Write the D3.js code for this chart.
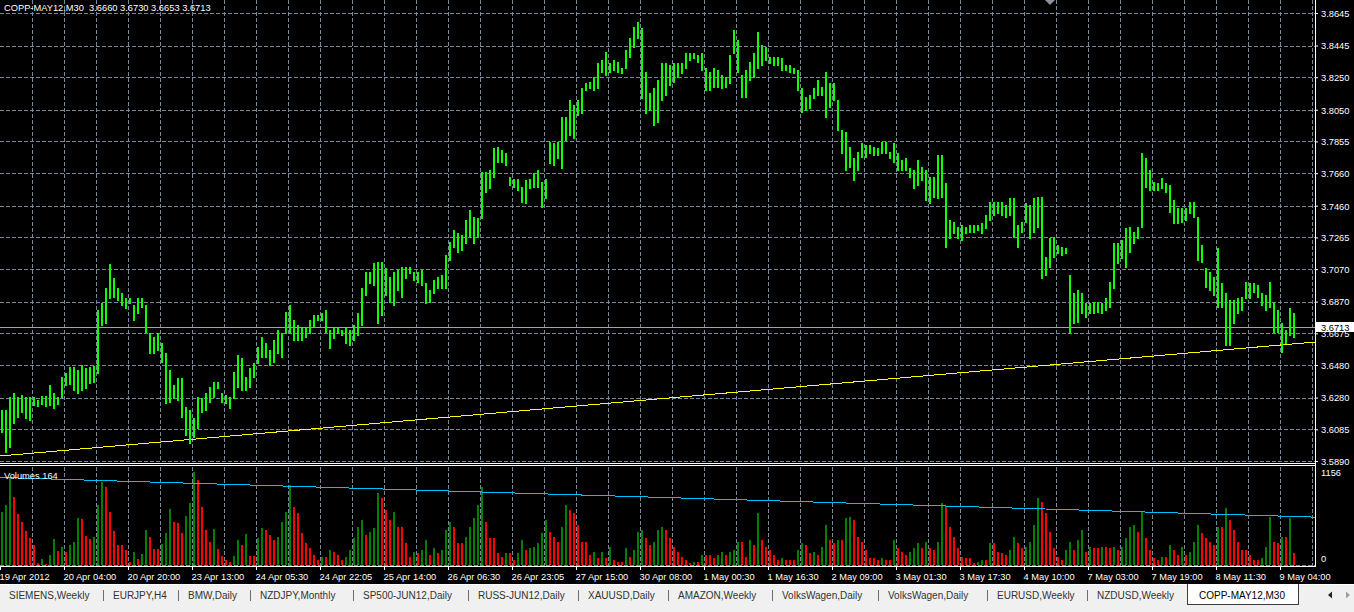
<!DOCTYPE html>
<html><head><meta charset="utf-8">
<script src="https://cdn.jsdelivr.net/npm/d3@7"></script>
<style>
html,body{margin:0;padding:0;background:#000;overflow:hidden}
svg{display:block}
</style></head><body>
<svg id="c" width="1354" height="612"></svg>
<script>
// ---------------- DATA ----------------
const symbolTitle = "COPP-MAY12,M30";
const lastOHLC = ["3.6660", "3.6730", "3.6653", "3.6713"];
const lastPrice = 3.6713;
const volumeTitle = "Volumes 164";
const priceTicks = ["3.8645","3.8445","3.8250","3.8050","3.7855","3.7660","3.7460","3.7265","3.7070","3.6870","3.6675","3.6480","3.6280","3.6085","3.5890"];
const volumeTicks = [0, 1156];
const timeLabels = ["19 Apr 2012","20 Apr 04:00","20 Apr 20:00","23 Apr 13:00","24 Apr 05:30","24 Apr 22:05","25 Apr 14:00","26 Apr 06:30","26 Apr 23:05","27 Apr 15:00","30 Apr 08:00","1 May 00:30","1 May 16:30","2 May 09:00","3 May 01:30","3 May 17:30","4 May 10:00","7 May 03:00","7 May 19:00","8 May 11:30","9 May 04:00"];
// each reading spans two consecutive M30 bars (one hour)
const highs = [
3.6203,3.6203,3.6283,3.6308,3.6283,3.6296,3.6283,3.6283,3.6283,3.6265,
3.6290,3.6290,3.6357,3.6308,3.6283,3.6406,3.6431,3.6468,3.6468,3.6450,
3.6480,3.6462,3.6468,3.6474,3.6818,3.6862,3.6954,3.7101,3.7015,3.6954,
3.6923,3.6892,3.6892,3.6849,3.6892,3.6892,3.6849,3.6677,3.6652,3.6677,
3.6616,3.6554,3.6450,3.6357,3.6400,3.6400,3.6222,3.6203,3.6154,3.6283,
3.6277,3.6308,3.6345,3.6376,3.6376,3.6308,3.6296,3.6283,3.6437,3.6542,
3.6523,3.6406,3.6462,3.6493,3.6591,3.6652,3.6616,3.6573,3.6634,3.6696,
3.6677,3.6806,3.6849,3.6757,3.6726,3.6708,3.6714,3.6757,3.6788,3.6788,
3.6800,3.6819,3.6696,3.6708,3.6708,3.6696,3.6708,3.6696,3.6726,3.6800,
3.6954,3.7052,3.7052,3.7107,3.7114,3.7114,3.7077,3.7022,3.7052,3.7065,
3.7083,3.7083,3.7083,3.7052,3.7052,3.7065,3.6985,3.6942,3.7003,3.7022,
3.7034,3.7157,3.7237,3.7311,3.7292,3.7280,3.7372,3.7434,3.7390,3.7384,
3.7667,3.7667,3.7680,3.7815,3.7821,3.7803,3.7784,3.7634,3.7622,3.7622,
3.7573,3.7616,3.7622,3.7661,3.7680,3.7606,3.7622,3.7852,3.7846,3.7852,
3.8005,3.8005,3.8110,3.8080,3.8110,3.8184,3.8215,3.8221,3.8251,3.8338,
3.8356,3.8405,3.8338,3.8356,3.8344,3.8307,3.8418,3.8491,3.8559,3.8590,
3.8553,3.8282,3.8153,3.8184,3.8233,3.8338,3.8338,3.8325,3.8338,3.8338,
3.8338,3.8399,3.8399,3.8399,3.8387,3.8399,3.8307,3.8282,3.8307,3.8295,
3.8264,3.8251,3.8387,3.8541,3.8479,3.8264,3.8295,3.8344,3.8399,3.8528,
3.8448,3.8436,3.8374,3.8374,3.8374,3.8368,3.8325,3.8325,3.8307,3.8295,
3.8184,3.8128,3.8141,3.8184,3.8233,3.8190,3.8282,3.8215,3.8215,3.8110,
3.7926,3.7913,3.7821,3.7753,3.7790,3.7846,3.7833,3.7833,3.7821,3.7815,
3.7852,3.7852,3.7790,3.7846,3.7784,3.7741,3.7753,3.7692,3.7680,3.7741,
3.7698,3.7680,3.7637,3.7637,3.7772,3.7772,3.7600,3.7372,3.7360,3.7329,
3.7341,3.7329,3.7341,3.7341,3.7341,3.7354,3.7403,3.7483,3.7483,3.7483,
3.7483,3.7464,3.7507,3.7507,3.7341,3.7360,3.7477,3.7464,3.7507,3.7514,
3.7514,3.7144,3.7261,3.7267,3.7218,3.7206,3.7200,3.7034,3.6923,3.6942,
3.6923,3.6862,3.6862,3.6868,3.6868,3.6862,3.6892,3.6991,3.7231,3.7231,
3.7249,3.7323,3.7329,3.7298,3.7329,3.7784,3.7753,3.7680,3.7606,3.7600,
3.7630,3.7600,3.7587,3.7495,3.7446,3.7446,3.7446,3.7483,3.7483,3.7390,
3.7218,3.7077,3.7052,3.7022,3.7200,3.6985,3.6923,3.6880,3.6880,3.6892,
3.6898,3.6991,3.6985,3.6985,3.6972,3.6923,3.6911,3.6991,3.6868,3.6819,
3.6738,3.6696,3.6831,3.6800];
const lows = [
3.6068,3.5945,3.5976,3.6124,3.6160,3.6191,3.6154,3.6142,3.6234,3.6228,
3.6240,3.6228,3.6234,3.6216,3.6240,3.6283,3.6357,3.6363,3.6326,3.6308,
3.6326,3.6339,3.6370,3.6376,3.6431,3.6726,3.6738,3.6892,3.6898,3.6880,
3.6849,3.6831,3.6862,3.6757,3.6800,3.6837,3.6683,3.6554,3.6554,3.6573,
3.6499,3.6247,3.6253,3.6277,3.6265,3.6160,3.6050,3.6000,3.6037,3.6093,
3.6191,3.6203,3.6253,3.6283,3.6339,3.6253,3.6247,3.6216,3.6277,3.6345,
3.6326,3.6326,3.6345,3.6406,3.6493,3.6529,3.6529,3.6480,3.6499,3.6554,
3.6529,3.6677,3.6677,3.6634,3.6634,3.6634,3.6652,3.6677,3.6714,3.6757,
3.6757,3.6683,3.6585,3.6646,3.6677,3.6665,3.6616,3.6603,3.6634,3.6665,
3.6726,3.6911,3.6985,3.6972,3.6738,3.6788,3.6911,3.6868,3.6849,3.6942,
3.6898,3.7015,3.7046,3.7003,3.6991,3.6972,3.6862,3.6868,3.6923,3.6954,
3.6954,3.6954,3.7126,3.7206,3.7175,3.7188,3.7231,3.7267,3.7231,3.7267,
3.7384,3.7544,3.7569,3.7634,3.7729,3.7729,3.7711,3.7585,3.7573,3.7557,
3.7483,3.7477,3.7569,3.7575,3.7573,3.7452,3.7507,3.7723,3.7711,3.7754,
3.7692,3.7864,3.7895,3.7876,3.8018,3.8030,3.8172,3.8184,3.8172,3.8184,
3.8282,3.8264,3.8282,3.8295,3.8282,3.8276,3.8307,3.8374,3.8436,3.8491,
3.8122,3.8030,3.8049,3.7956,3.7975,3.8110,3.8141,3.8202,3.8221,3.8251,
3.8276,3.8307,3.8356,3.8368,3.8344,3.8295,3.8172,3.8172,3.8190,3.8190,
3.8184,3.8190,3.8215,3.8399,3.8282,3.8128,3.8128,3.8233,3.8251,3.8307,
3.8325,3.8356,3.8338,3.8325,3.8325,3.8295,3.8295,3.8282,3.8276,3.8172,
3.8036,3.8049,3.8061,3.8122,3.8141,3.8141,3.8005,3.8067,3.8110,3.7926,
3.7784,3.7680,3.7698,3.7618,3.7680,3.7760,3.7760,3.7784,3.7772,3.7772,
3.7784,3.7784,3.7753,3.7729,3.7680,3.7680,3.7680,3.7637,3.7569,3.7587,
3.7618,3.7495,3.7477,3.7514,3.7507,3.7514,3.7206,3.7261,3.7292,3.7261,
3.7249,3.7292,3.7298,3.7298,3.7311,3.7292,3.7323,3.7372,3.7403,3.7415,
3.7403,3.7390,3.7403,3.7267,3.7206,3.7298,3.7360,3.7261,3.7298,3.7329,
3.7015,3.7034,3.7083,3.7144,3.7169,3.7157,3.7169,3.6677,3.6738,3.6745,
3.6800,3.6776,3.6800,3.6800,3.6806,3.6800,3.6819,3.6837,3.6954,3.7107,
3.7138,3.7083,3.7175,3.7231,3.7261,3.7329,3.7575,3.7557,3.7557,3.7557,
3.7569,3.7544,3.7421,3.7354,3.7354,3.7360,3.7372,3.7415,3.7390,3.7126,
3.7114,3.6960,3.6942,3.6911,3.6837,3.6837,3.6603,3.6603,3.6738,3.6800,
3.6819,3.6892,3.6892,3.6929,3.6898,3.6849,3.6819,3.6837,3.6683,3.6683,
3.6560,3.6616,3.6665,3.6652];
const volumes = [
645,730,1059,828,621,523,414,329,243,24,
73,12,122,316,170,219,158,243,280,572,
560,353,316,341,730,1010,949,645,414,243,
243,183,37,158,73,134,426,341,195,195,
256,389,681,523,511,389,596,754,1132,1034,
706,426,280,438,195,110,61,37,110,304,
243,377,110,110,329,450,426,365,304,341,
523,645,974,706,633,389,268,207,122,61,
97,97,183,158,122,61,97,183,329,462,
548,365,402,450,876,815,669,548,645,462,
462,268,97,158,146,183,304,122,207,146,
183,426,523,462,268,268,341,462,572,730,
949,523,329,329,146,97,146,146,61,146,
304,183,207,219,268,389,548,402,341,280,
462,730,669,633,487,280,280,122,158,85,
158,85,219,61,37,37,207,97,183,402,
426,329,243,280,426,462,426,329,219,158,
97,61,24,37,37,122,122,122,85,122,
158,122,158,183,280,280,97,304,243,633,
304,219,183,122,61,85,61,61,61,183,
268,243,146,158,122,219,487,304,268,304,
304,572,584,548,341,280,183,85,85,61,
85,61,61,304,207,158,122,158,207,268,
207,280,207,183,280,754,718,462,341,207,
97,85,85,24,37,61,61,268,268,158,
146,122,183,341,268,207,219,280,487,815,
767,633,402,207,97,61,183,280,183,304,
426,158,219,207,207,219,219,207,219,183,
219,329,462,487,402,645,329,183,85,61,
97,97,243,183,122,219,122,158,280,487,
389,329,280,243,462,462,694,548,426,280,
183,183,122,61,61,85,219,584,280,268,
341,341,572,146];
// trend lines (anchor bar index, value)
const trendBars = [0, 640];
const trendPrices = [3.5921, 3.6603];
const volTrendBars = [0, 650];
const volTrendValues = [1065, 588];
const tabs = ["SIEMENS,Weekly","EURJPY,H4","BMW,Daily","NZDJPY,Monthly","SP500-JUN12,Daily","RUSS-JUN12,Daily","XAUUSD,Daily","AMAZON,Weekly","VolksWagen,Daily","VolksWagen,Daily","EURUSD,Weekly","NZDUSD,Weekly"];
const activeTab = "COPP-MAY12,M30";

// ---------------- LAYOUT ----------------
const W = 1354, H = 612, axisX = 1315;
const font = "'Liberation Sans', Arial, sans-serif";
const fs = 9.3;
const gridColor = "#778899";
const tabX = [9,113,188,260,363,478,588,678,782,888,997,1097];

const svg = d3.select("#c");
svg.append("rect").attr("width", W).attr("height", H).attr("fill", "#000");

const x = d3.scaleLinear().domain([0, 656]).range([0, 1312]);          // M30 bar index
const y = d3.scaleLinear().domain([3.5890, 3.8645]).range([461, 13]);   // price
const yv = d3.scaleLinear().domain([0, 1156]).range([565, 470]);        // volume
const n = highs.length;
const barOf = i => i * 2;

// grid
const grid = svg.append("g").attr("shape-rendering", "crispEdges")
  .attr("stroke", gridColor).attr("stroke-dasharray", "4,2");
priceTicks.forEach(t => {
  const yy = Math.round(y(+t)) + 0.5;
  grid.append("line").attr("x1", 0).attr("x2", axisX).attr("y1", yy).attr("y2", yy);
});
d3.range(16, 657, 16).forEach(b => {
  const xx = Math.round(x(b)) + 0.5;
  grid.append("line").attr("x1", xx).attr("x2", xx).attr("y1", 0).attr("y2", 462);
  grid.append("line").attr("x1", xx).attr("x2", xx).attr("y1", 467).attr("y2", 566);
});
grid.append("line").attr("x1", 0).attr("x2", axisX).attr("y1", 565.5).attr("y2", 565.5);

// trend line in price panel
const lin = (b0, v0, b1, v1, b) => v0 + (v1 - v0) * (b - b0) / (b1 - b0);
const bRight = x.invert(axisX);
svg.append("line").attr("shape-rendering", "crispEdges")
  .attr("x1", x(trendBars[0])).attr("y1", y(trendPrices[0]))
  .attr("x2", axisX).attr("y2", y(lin(trendBars[0], trendPrices[0], trendBars[1], trendPrices[1], bRight)))
  .attr("stroke", "#ffff00").attr("stroke-width", 1);

// current price line
const yLast = Math.round(y(lastPrice)) + 0.5;
svg.append("line").attr("x1", 0).attr("x2", axisX).attr("y1", yLast).attr("y2", yLast)
  .attr("stroke", "#a0a4a8").attr("shape-rendering", "crispEdges");

// price bars
svg.append("g").attr("shape-rendering", "crispEdges").selectAll("rect")
  .data(d3.range(n)).join("rect")
  .attr("x", i => x(barOf(i)) + 1).attr("width", 2)
  .attr("y", i => Math.round(y(highs[i])))
  .attr("height", i => Math.max(1, Math.round(y(lows[i])) - Math.round(y(highs[i])) + 1))
  .attr("fill", "#10ff00");

// volume bars (green when volume rises, red when it falls)
svg.append("g").attr("shape-rendering", "crispEdges").selectAll("rect")
  .data(d3.range(n)).join("rect")
  .attr("x", i => x(barOf(i)) + 1).attr("width", 2)
  .attr("y", i => Math.round(yv(volumes[i])))
  .attr("height", i => Math.round(yv(0)) - Math.round(yv(volumes[i])))
  .attr("fill", i => (i === 0 || volumes[i] > volumes[i - 1]) ? "#008000" : "#ff0000");

// volume trend line
svg.append("line").attr("shape-rendering", "crispEdges")
  .attr("x1", x(volTrendBars[0])).attr("y1", yv(volTrendValues[0]))
  .attr("x2", axisX).attr("y2", yv(lin(volTrendBars[0], volTrendValues[0], volTrendBars[1], volTrendValues[1], bRight)))
  .attr("stroke", "#00bfff").attr("stroke-width", 1);

// panel frames
const frame = svg.append("g").attr("stroke", "#fff").attr("shape-rendering", "crispEdges");
frame.append("line").attr("x1", axisX + 0.5).attr("x2", axisX + 0.5).attr("y1", 0).attr("y2", 567);
frame.append("line").attr("x1", 0).attr("x2", axisX).attr("y1", 463.5).attr("y2", 463.5);
frame.append("line").attr("x1", 0).attr("x2", axisX).attr("y1", 465.5).attr("y2", 465.5);
frame.append("line").attr("x1", 0).attr("x2", axisX).attr("y1", 566.5).attr("y2", 566.5);

// price axis
const pAxis = svg.append("g").attr("transform", `translate(${axisX},0)`)
  .call(d3.axisRight(y).tickValues(priceTicks.map(Number)).tickFormat((d, i) => priceTicks[i]).tickSize(3).tickPadding(3));
pAxis.select(".domain").remove();
pAxis.selectAll("line").attr("stroke", "#fff");
pAxis.selectAll("text").attr("fill", "#fff").attr("font-family", font).attr("font-size", fs).attr("dy", "0.36em");

// volume axis
const vAxis = svg.append("g").attr("transform", `translate(${axisX},0)`)
  .call(d3.axisRight(yv).tickValues(volumeTicks).tickFormat(d3.format("d")).tickSize(0).tickPadding(6));
vAxis.select(".domain").remove();
vAxis.selectAll("text").attr("fill", "#fff").attr("font-family", font).attr("font-size", fs)
  .attr("dy", d => d === 0 ? "-0.38em" : "0.55em");

// current price box
svg.append("rect").attr("x", axisX + 1).attr("y", yLast - 5.5).attr("width", W - axisX - 1).attr("height", 10).attr("fill", "#fff");
svg.append("text").attr("x", axisX + 6).attr("y", yLast).attr("dy", "0.36em")
  .attr("font-family", font).attr("font-size", fs).attr("fill", "#000").text(lastPrice.toFixed(4));

// time axis
const tAxis = svg.append("g").attr("transform", "translate(0,566)")
  .call(d3.axisBottom(x).tickValues(timeLabels.map((d, i) => i * 32)).tickFormat((d, i) => timeLabels[i]).tickSize(4));
tAxis.select(".domain").remove();
tAxis.selectAll("line").attr("stroke", "#fff");
tAxis.selectAll("text").attr("fill", "#fff").attr("font-family", font).attr("font-size", fs)
  .attr("text-anchor", "start").attr("x", -1).attr("y", 13.5).attr("dy", 0);

// titles
svg.append("text").attr("x", 4).attr("y", 10.5).attr("font-family", font).attr("font-size", fs)
  .attr("fill", "#fff").style("white-space", "pre").text(symbolTitle + "  " + lastOHLC.join(" "));
svg.append("text").attr("x", 4).attr("y", 479).attr("font-family", font).attr("font-size", fs)
  .attr("fill", "#fff").text(volumeTitle);

// chart shift marker
svg.append("path").attr("d", "M1045,0 L1055,0 L1050,5 Z").attr("fill", "#8c939c");

// tab bar
const tb = svg.append("g");
tb.append("rect").attr("x", 0).attr("y", 584).attr("width", W).attr("height", H - 584).attr("fill", "#f0f0f0");
tb.append("line").attr("x1", 0).attr("x2", W).attr("y1", 584.5).attr("y2", 584.5).attr("stroke", "#fff").attr("shape-rendering", "crispEdges");
tabs.forEach((t, i) => {
  tb.append("text").attr("x", tabX[i]).attr("y", 598.5).attr("font-family", font).attr("font-size", 10)
    .attr("fill", "#333").text(t);
  if (i > 0) {
    const sx = tabX[i] - 9.5;
    tb.append("line").attr("x1", sx).attr("x2", sx).attr("y1", 590).attr("y2", 601)
      .attr("stroke", "#6e6e6e").attr("shape-rendering", "crispEdges");
  }
});
tb.append("rect").attr("x", 1187.5).attr("y", 584.5).attr("width", 111).attr("height", 19.5)
  .attr("fill", "#fff").attr("stroke", "#3c3c3c").attr("shape-rendering", "crispEdges");
tb.append("rect").attr("x", 1188).attr("y", 584).attr("width", 110).attr("height", 2).attr("fill", "#fff");
tb.append("text").attr("x", 1199).attr("y", 598.5).attr("font-family", font).attr("font-size", 10)
  .attr("fill", "#000").text(activeTab);
tb.append("path").attr("d", "M1328,595 L1332,591.5 L1332,598.5 Z").attr("fill", "#222");
tb.append("path").attr("d", "M1346,591.5 L1350,595 L1346,598.5 Z").attr("fill", "#a0a0a0");
</script>
</body></html>
